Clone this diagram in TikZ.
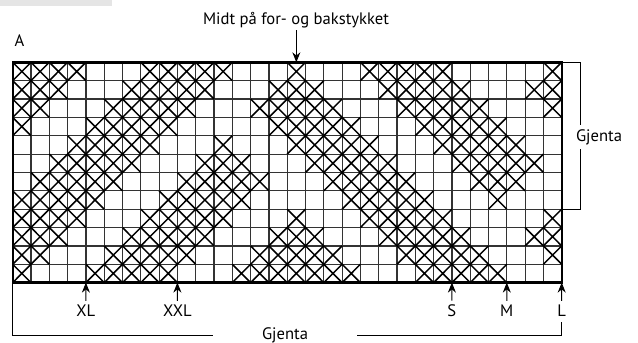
\documentclass[tikz,border=0pt]{standalone}
\usepackage{fontspec}
\setmainfont{PT Sans}
\usetikzlibrary{arrows.meta}

\tikzset{
	gridline/.style={draw=black!80, line width=0.6pt},
	frame/.style={line width=1.2pt},
	cross/.style={line width=0.75pt},
	sizearrow/.style={-{Stealth[length=5pt,width=4pt]}, line width=0.5pt},
	lbl/.style={inner sep=1pt, font=\fontsize{8.3}{10}\selectfont},
}

\begin{document}
\begin{tikzpicture}[x=0.5pt,y=-0.5pt]
	\useasboundingbox (0,0) rectangle (638,343);
	\fill[black!10] (0,0) rectangle (112,6);
	\node[lbl] (lblA) at (19.5,41) {A};
	\node[lbl] (midt) at (296,20) {Midt på for- og bakstykket};

	\begin{scope}[shift={(12.7,62.3)}, x=9.15pt, y=-9.18pt]
		\def\ncols{30}
		\def\nrows{12}
		% grid lines
		\foreach \c in {1,...,29}
			\draw[gridline] (\c,0) -- (\c,\nrows);
		\foreach \r in {1,...,11}
			\draw[gridline] (0,\r) -- (\ncols,\r);

		% stitches, row by row
		\foreach \r/\cs in {
			0/{0,1,2,3,7,8,9,10,11,15,19,20,21,22,23,29},
			1/{0,1,2,6,7,8,9,10,14,15,16,20,21,22,23,24,28,29},
			2/{0,1,5,6,7,8,9,13,14,15,16,17,21,22,23,24,25,29},
			3/{0,4,5,6,7,8,14,15,16,17,18,22,23,24,25,26},
			4/{3,4,5,6,7,11,15,16,17,18,19,23,24,25,26,27},
			5/{2,3,4,5,6,10,11,12,16,17,18,19,20,24,25,26,27,28},
			6/{1,2,3,4,5,9,10,11,12,13,17,18,19,20,21,25,26,27},
			7/{0,1,2,3,4,8,9,10,11,12,18,19,20,21,22,26},
			8/{0,1,2,3,7,8,9,10,11,15,19,20,21,22,23,29},
			9/{0,1,2,6,7,8,9,10,14,15,16,20,21,22,23,24,28,29},
			10/{0,1,5,6,7,8,9,13,14,15,16,17,21,22,23,24,25,29},
			11/{0,4,5,6,7,8,12,13,14,15,16,17,18,22,23,24,25,26}} {
			\foreach \c in \cs
				\draw[cross] (\c,\r) -- (\c+1,\r+1) (\c,\r+1) -- (\c+1,\r);
		}
		\draw[frame] (0,0) rectangle (\ncols,\nrows);

		\coordinate (ptMidt) at (15.5,0);
		\coordinate (ptXL) at (4,\nrows);
		\coordinate (ptXXL) at (9,\nrows);
		\coordinate (ptS) at (24,\nrows);
		\coordinate (ptM) at (27,\nrows);
		\coordinate (ptL) at (30,\nrows);
		\coordinate (gridTR) at (30,0);
		\coordinate (gridR8) at (30,8);
		\coordinate (gridBL) at (0,\nrows);
	\end{scope}

	\draw[sizearrow] (midt.south -| ptMidt) -- (ptMidt);

	% sizes
	\node[lbl] (xl) at (85.9,311) {XL};
	\node[lbl] (xxl) at (177.4,311) {XXL};
	\node[lbl] (s) at (451.9,311) {S};
	\node[lbl] (m) at (506.8,311) {M};
	\node[lbl] (l) at (561.7,311) {L};
	\foreach \n/\p in {xl/ptXL, xxl/ptXXL, s/ptS, m/ptM, l/ptL}
		\draw[sizearrow] (\n.north) ++(0,-2) -- (\p);

	% repeats
	\coordinate (brk) at (580,0);
	\node[lbl, inner sep=2pt] (gjR) at (599,137) {Gjenta};
	\draw[line width=0.5pt] (gridTR) -- (gridTR -| brk) -- (gjR.north -| brk);
	\draw[line width=0.5pt] (gjR.south -| brk) -- (gridR8 -| brk) -- (gridR8);

	\node[lbl, inner sep=0pt, minimum width=72] (gjB) at (285,335) {Gjenta};
	\coordinate (bl) at (12.7,335);
	\coordinate (br) at (561.7,335);
	\draw[line width=0.5pt] (gridBL) -- (bl) -- (gjB.west);
	\draw[line width=0.5pt] (gjB.east) -- (br) -- ++(0,-13);
\end{tikzpicture}
\end{document}
